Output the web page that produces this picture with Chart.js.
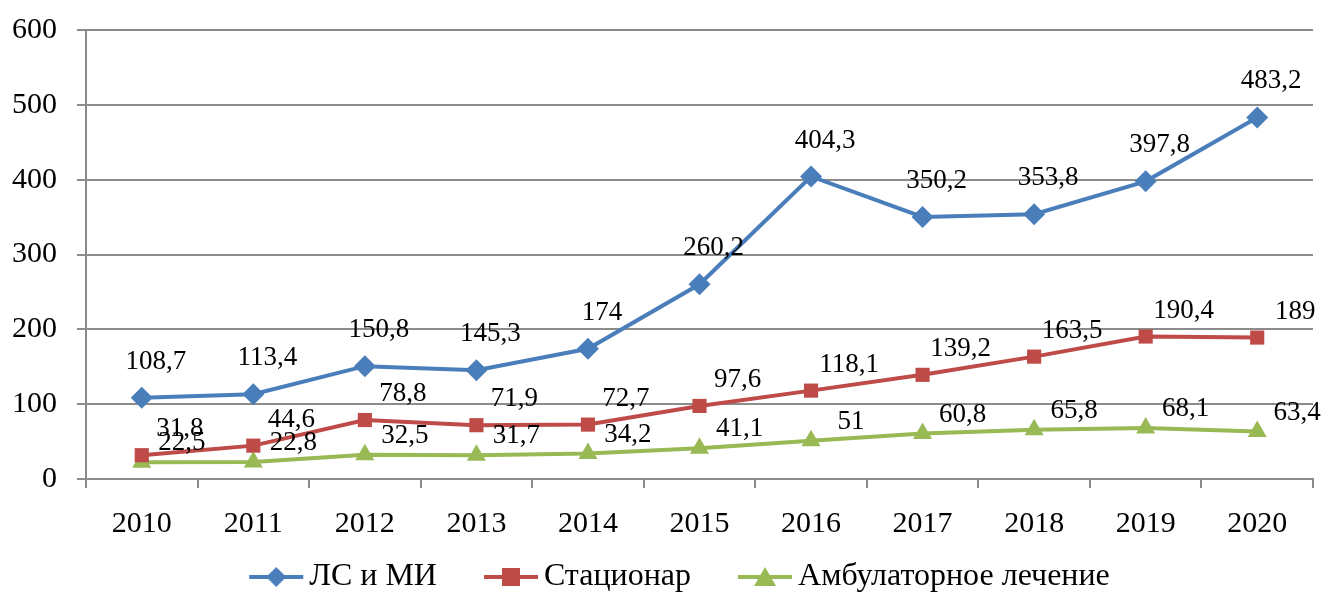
<!DOCTYPE html>
<html>
<head>
<meta charset="utf-8">
<script src="https://cdn.jsdelivr.net/npm/chart.js@4/dist/chart.umd.min.js"></script>
<style>
    html, body { margin: 0; padding: 0; background: #fff; }
    #wrap { width: 1333px; height: 592px; }
</style>
</head>
<body>
<div id="wrap"><canvas id="chart" width="1333" height="592"></canvas></div>
<script>
// данные графика
const years = ['2010', '2011', '2012', '2013', '2014', '2015', '2016', '2017', '2018', '2019', '2020'];
const seriesNames = ['ЛС и МИ', 'Стационар', 'Амбулаторное лечение'];
const lsMi = [108.7, 113.4, 150.8, 145.3, 174, 260.2, 404.3, 350.2, 353.8, 397.8, 483.2];
const stationar = [31.8, 44.6, 78.8, 71.9, 72.7, 97.6, 118.1, 139.2, 163.5, 190.4, 189];
const ambulatory = [22.5, 22.8, 32.5, 31.7, 34.2, 41.1, 51, 60.8, 65.8, 68.1, 63.4];
const yTicks = [0, 100, 200, 300, 400, 500, 600];

const FONT = "'Liberation Serif', 'Times New Roman', serif";
const colors = ['#4A7EBB', '#BE4B48', '#98B954'];
const markers = ['rectRot', 'rect', 'triangle'];
// смещение подписей относительно точки (для каждой серии)
const labelShift = [[14, -36], [38, -26], [40, -19]];

// иконка легенды: линия + маркер (прижата к правому краю, слева пустое место)
function legendIcon(color, style) {
    const c = document.createElement('canvas');
    c.width = 112; c.height = 22;
    const ctx = c.getContext('2d');
    const x0 = 56;
    ctx.strokeStyle = color;
    ctx.lineWidth = 4;
    ctx.beginPath();
    ctx.moveTo(x0 + 1, 11); ctx.lineTo(x0 + 55, 11);
    ctx.stroke();
    ctx.fillStyle = color;
    ctx.beginPath();
    const cx = x0 + 28;
    if (style === 'rectRot') {
        ctx.moveTo(cx, 1); ctx.lineTo(cx + 10, 11); ctx.lineTo(cx, 21); ctx.lineTo(cx - 10, 11);
    } else if (style === 'rect') {
        ctx.rect(cx - 9, 2, 18, 18);
    } else {
        ctx.moveTo(cx, 1); ctx.lineTo(cx + 11, 20); ctx.lineTo(cx - 11, 20);
    }
    ctx.closePath();
    ctx.fill();
    return c;
}

// подписи значений
const valueLabels = {
    id: 'valueLabels',
    afterDatasetsDraw(chart) {
        const ctx = chart.ctx;
        ctx.save();
        ctx.font = '27px ' + FONT;
        ctx.fillStyle = '#000';
        ctx.textAlign = 'center';
        ctx.textBaseline = 'middle';
        chart.data.datasets.forEach(function(ds, di) {
            const meta = chart.getDatasetMeta(di);
            meta.data.forEach(function(pt, i) {
                const txt = String(ds.data[i]).replace('.', ',');
                ctx.fillText(txt, pt.x + labelShift[di][0], pt.y + labelShift[di][1]);
            });
        });
        ctx.restore();
    }
};

const datasets = [lsMi, stationar, ambulatory].map(function(vals, i) {
    return {
        label: seriesNames[i],
        data: vals,
        borderColor: colors[i],
        backgroundColor: colors[i],
        borderWidth: 4,
        pointStyle: markers[i],
        pointRadius: i === 1 ? 10 : 11,
        pointBorderWidth: 0,
        tension: 0
    };
});

new Chart(document.getElementById('chart').getContext('2d'), {
    type: 'line',
    data: { labels: years, datasets: datasets },
    options: {
        responsive: false,
        animation: false,
        layout: { padding: { top: 30, right: 20, left: 0, bottom: -11 } },
        plugins: {
            legend: {
                position: 'bottom',
                labels: {
                    usePointStyle: true,
                    pointStyleWidth: 90,
                    font: { family: FONT, size: 32, lineHeight: 1 },
                    color: '#000',
                    padding: 1,
                    generateLabels: function(chart) {
                        return chart.data.datasets.map(function(ds, i) {
                            return {
                                text: ds.label,
                                pointStyle: legendIcon(colors[i], markers[i]),
                                fillStyle: colors[i],
                                strokeStyle: colors[i],
                                lineWidth: 0,
                                datasetIndex: i
                            };
                        });
                    }
                }
            },
            tooltip: { enabled: false }
        },
        scales: {
            x: {
                offset: true,
                grid: {
                    offset: true,
                    drawOnChartArea: false,
                    drawTicks: true,
                    tickLength: 9,
                    color: '#8C8C8C',
                    lineWidth: 2
                },
                border: { color: '#8C8C8C', width: 2 },
                afterFit: function(axis) { axis.height = 81; },
                ticks: {
                    font: { family: FONT, size: 30 },
                    color: '#000',
                    padding: 18,
                    maxRotation: 0
                }
            },
            y: {
                min: 0,
                max: 600,
                afterBuildTicks: function(axis) {
                    axis.ticks = yTicks.map(function(v) { return { value: v }; });
                },
                afterFit: function(axis) {
                    axis.width = 86;
                    axis.paddingTop = 0;
                    axis.paddingBottom = 0;
                },
                grid: {
                    color: '#8C8C8C',
                    lineWidth: 2,
                    tickLength: 9
                },
                border: { color: '#8C8C8C', width: 2 },
                ticks: {
                    font: { family: FONT, size: 30 },
                    color: '#000',
                    padding: 20
                }
            }
        }
    },
    plugins: [valueLabels]
});
</script>
</body>
</html>
